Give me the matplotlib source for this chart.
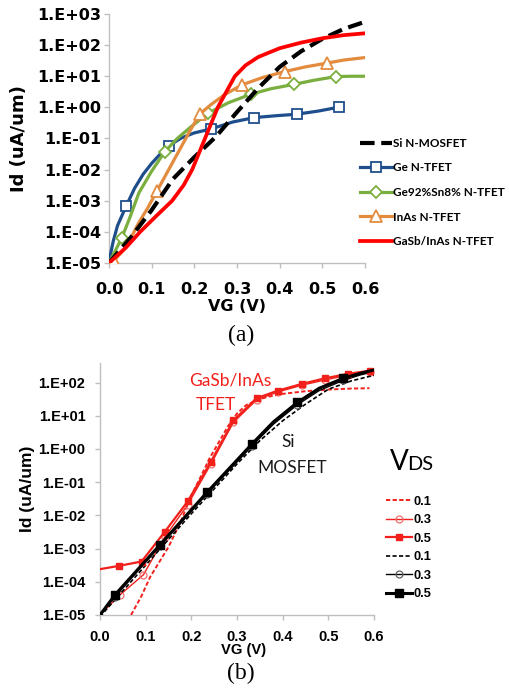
import numpy as np
import matplotlib.pyplot as plt
from matplotlib.ticker import FixedLocator, FuncFormatter, NullLocator

# ── (a) Id-VG at VDS = 0.5 V, log10(Id) in uA/um ─────────────────────────────
si_vg = [0.0, 0.05, 0.10, 0.15, 0.20, 0.25, 0.30, 0.35, 0.40, 0.45, 0.50, 0.55, 0.60]
si_log = [-5.0, -4.2, -3.3, -2.3, -1.6, -0.95, -0.15, 0.62, 1.3, 1.8, 2.2, 2.52, 2.75]

ge_vg = [0.0, 0.01, 0.02, 0.04, 0.06, 0.08, 0.10, 0.12, 0.14, 0.17, 0.20, 0.24,
         0.29, 0.34, 0.39, 0.44, 0.49, 0.54]
ge_log = [-4.95, -4.3, -3.8, -3.18, -2.6, -2.15, -1.8, -1.5, -1.235, -0.98, -0.82,
          -0.69, -0.47, -0.33, -0.27, -0.22, -0.12, 0.01]
ge_marks = [0.04, 0.14, 0.24, 0.34, 0.44, 0.54]

gesn_vg = [0.0, 0.03, 0.05, 0.07, 0.10, 0.131, 0.16, 0.19, 0.232, 0.28, 0.332,
           0.38, 0.434, 0.48, 0.532, 0.57, 0.60]
gesn_log = [-5.0, -4.2, -3.5, -2.75, -2.05, -1.42, -1.0, -0.65, -0.19, 0.15, 0.42,
            0.6, 0.74, 0.87, 0.99, 1.0, 1.0]
gesn_marks = [0.03, 0.131, 0.232, 0.332, 0.434, 0.532]

inas_vg = [0.0, 0.012, 0.04, 0.07, 0.09, 0.112, 0.14, 0.17, 0.19, 0.213, 0.24,
           0.27, 0.311, 0.36, 0.412, 0.46, 0.51, 0.55, 0.60]
inas_log = [-5.0, -4.92, -4.5, -3.7, -3.25, -2.70, -2.0, -1.25, -0.75, -0.21, 0.1,
            0.4, 0.72, 0.96, 1.15, 1.3, 1.42, 1.52, 1.6]
inas_marks = [0.012, 0.112, 0.213, 0.311, 0.412, 0.51]

gasb_vg = [0.0, 0.04, 0.073, 0.11, 0.148, 0.175, 0.195, 0.21, 0.225, 0.24, 0.255,
           0.275, 0.295, 0.32, 0.35, 0.40, 0.45, 0.50, 0.55, 0.60]
gasb_log = [-5.0, -4.5, -4.0, -3.5, -3.0, -2.5, -2.0, -1.5, -1.0, -0.5, 0.0,
            0.5, 1.0, 1.35, 1.62, 1.9, 2.08, 2.22, 2.32, 2.38]

# ── (b) GaSb/InAs TFET vs Si MOSFET at VDS = 0.1 / 0.3 / 0.5 V ───────────────
tfet05_vg = [0.0, 0.042, 0.091, 0.142, 0.192, 0.243, 0.292, 0.343, 0.39, 0.442,
             0.493, 0.542, 0.591]
tfet05_log = [-3.62, -3.52, -3.39, -2.49, -1.58, -0.38, 0.86, 1.53, 1.76, 1.96,
              2.13, 2.26, 2.36]

tfet03_vg = [0.0, 0.044, 0.095, 0.142, 0.192, 0.243, 0.292, 0.343, 0.39, 0.442,
             0.493, 0.542, 0.591]
tfet03_log = [-5.0, -4.39, -3.79, -2.65, -1.68, -0.45, 0.80, 1.48, 1.72, 1.92,
              2.08, 2.22, 2.33]

tfet01_vg = [0.068, 0.09, 0.11, 0.13, 0.15, 0.175, 0.20, 0.22, 0.24, 0.26, 0.28,
             0.30, 0.32, 0.345, 0.37, 0.40, 0.45, 0.50, 0.55, 0.59]
tfet01_log = [-5.0, -4.45, -3.85, -3.4, -2.95, -2.24, -1.4, -0.85, -0.28, 0.2, 0.68,
              1.07, 1.32, 1.48, 1.58, 1.66, 1.74, 1.79, 1.82, 1.83]

mos05_vg = [0.0, 0.033, 0.131, 0.234, 0.332, 0.38, 0.432, 0.48, 0.533, 0.57, 0.60]
mos05_log = [-5.0, -4.39, -2.89, -1.31, 0.14, 0.82, 1.4, 1.83, 2.13, 2.28, 2.38]
mos03_log = [-5.0, -4.45, -2.93, -1.36, 0.08, 0.75, 1.33, 1.76, 2.07, 2.23, 2.33]
mos_marks = [0.033, 0.131, 0.234, 0.332, 0.432, 0.533]

mos01_vg = [0.0, 0.10, 0.20, 0.30, 0.35, 0.40, 0.45, 0.50, 0.55, 0.60]
mos01_log = [-5.05, -3.5, -1.95, -0.45, 0.25, 0.85, 1.35, 1.8, 2.05, 2.22]

vds_labels = ["0.1", "0.3", "0.5", "0.1", "0.3", "0.5"]

# ── styling ──────────────────────────────────────────────────────────────────
plt.rcParams["font.weight"] = "bold"
plt.rcParams["axes.labelweight"] = "bold"

AXIS_GREY = "#bfbfbf"
C_GE = "#1f4e8c"
C_GESN = "#7aae3e"
C_INAS = "#e38b3f"
C_RED = "#ff0000"
C_RED_B = "#f2201a"
B_FONT = "Liberation Sans"


def idx(vg, at):
    return [vg.index(v) for v in at]


def exp_label(v, _pos):
    e = int(round(np.log10(v)))
    return f"1.E{e:+03d}"


def style_axes(ax, ylo, yhi, decades, family, size, xpad, ypad):
    ax.set_yscale("log")
    ax.set_xlim(0, 0.6)
    ax.set_ylim(ylo, yhi)
    ax.yaxis.set_major_locator(FixedLocator([10.0 ** d for d in decades]))
    ax.yaxis.set_minor_locator(NullLocator())
    ax.yaxis.set_major_formatter(FuncFormatter(exp_label))
    ax.set_xticks(np.arange(0, 0.61, 0.1))
    ax.xaxis.set_major_formatter(FuncFormatter(lambda v, p: f"{v:.1f}"))
    for s in ("top", "right"):
        ax.spines[s].set_visible(False)
    for s in ("left", "bottom"):
        ax.spines[s].set_color(AXIS_GREY)
        ax.spines[s].set_linewidth(1.0)
    ax.tick_params(axis="both", which="major", direction="out", length=3.5,
                   width=1.0, color=AXIS_GREY, labelsize=size,
                   labelfontfamily=family)
    ax.tick_params(axis="x", pad=xpad)
    ax.tick_params(axis="y", pad=ypad)


fig = plt.figure(figsize=(5.09, 6.93), dpi=100, facecolor="white")

# ── panel (a) ────────────────────────────────────────────────────────────────
ax_a = fig.add_axes([0.2141, 0.6205, 0.5030, 0.3593])
style_axes(ax_a, 1e-5, 1e3, range(-5, 4), "DejaVu Sans", 11.5, 10, 2)

l_ge, = ax_a.plot(ge_vg, 10.0 ** np.array(ge_log), color=C_GE, lw=2.3,
                  marker="s", ms=7, mfc="white", mec=C_GE, mew=1.3,
                  markevery=idx(ge_vg, ge_marks), zorder=3, label="Ge N-TFET")
l_gesn, = ax_a.plot(gesn_vg, 10.0 ** np.array(gesn_log), color=C_GESN, lw=2.3,
                    marker="D", ms=6, mfc="white", mec=C_GESN, mew=1.3,
                    markevery=idx(gesn_vg, gesn_marks), zorder=3,
                    label="Ge92%Sn8% N-TFET")
l_inas, = ax_a.plot(inas_vg, 10.0 ** np.array(inas_log), color=C_INAS, lw=2.3,
                    marker="^", ms=8, mfc="white", mec=C_INAS, mew=1.3,
                    markevery=idx(inas_vg, inas_marks), zorder=3,
                    label="InAs N-TFET")
l_si, = ax_a.plot(si_vg, 10.0 ** np.array(si_log), color="black", lw=3.0,
                  dashes=(3.5, 1.6), zorder=4, label="Si N-MOSFET")
l_gasb, = ax_a.plot(gasb_vg, 10.0 ** np.array(gasb_log), color=C_RED, lw=2.7,
                    zorder=5, label="GaSb/InAs N-TFET")

ax_a.set_ylabel("Id (uA/um)", fontsize=13, family="DejaVu Sans")
ax_a.yaxis.set_label_coords((28 - 109) / 256, 0.5)
fig.text(237 / 509, 1 - 306.7 / 693, "VG (V)", ha="center", va="center",
         fontsize=11.5, family="DejaVu Sans")

handles_a = [l_si, l_ge, l_gesn, l_inas, l_gasb]
fig.legend(handles_a, [h.get_label() for h in handles_a],
           loc="center left", bbox_to_anchor=(360 / 509, 1 - 192.5 / 693),
           frameon=False, borderpad=0, borderaxespad=0,
           handlelength=2.7, handletextpad=0.1, labelspacing=1.15,
           prop={"family": "Lato", "weight": "bold", "size": 8.5})

fig.text(241 / 509, 1 - 335 / 693, "(a)", ha="center", va="center",
         fontsize=17, family="Liberation Serif", fontweight="normal")

# ── panel (b) ────────────────────────────────────────────────────────────────
ax_b = fig.add_axes([0.1965, 0.1126, 0.5383, 0.3636])
style_axes(ax_b, 1e-5, 10 ** 2.59, range(-5, 3), B_FONT, 10.5, 7, 7)

l_t01, = ax_b.plot(tfet01_vg, 10.0 ** np.array(tfet01_log), color=C_RED_B,
                   lw=1.4, dashes=(2.2, 1.2), zorder=3)
l_t03, = ax_b.plot(tfet03_vg, 10.0 ** np.array(tfet03_log), color=C_RED_B,
                   lw=1.0, marker="o", ms=5, mfc="none", mec="#f07070", mew=0.9,
                   markevery=list(range(1, len(tfet03_vg))), zorder=3)
l_t05, = ax_b.plot(tfet05_vg, 10.0 ** np.array(tfet05_log), color=C_RED_B,
                   lw=1.6, marker="s", ms=5, mfc=C_RED_B, mec=C_RED_B,
                   markevery=list(range(1, len(tfet05_vg))), zorder=4)
l_m01, = ax_b.plot(mos01_vg, 10.0 ** np.array(mos01_log), color="black",
                   lw=1.2, dashes=(2.5, 1.4), zorder=3)
l_m03, = ax_b.plot(mos05_vg, 10.0 ** np.array(mos03_log), color="black",
                   lw=1.0, marker="o", ms=5, mfc="none", mec="#606060", mew=0.9,
                   markevery=idx(mos05_vg, mos_marks), zorder=3)
l_m05, = ax_b.plot(mos05_vg, 10.0 ** np.array(mos05_log), color="black",
                   lw=2.2, marker="s", ms=5.5, mfc="black", mec="black",
                   markevery=idx(mos05_vg, mos_marks), zorder=4)

ax_b.set_ylabel("Id (uA/um)", fontsize=12.5, family=B_FONT)
ax_b.yaxis.set_label_coords((35 - 100) / 274, 0.5)
fig.text(244 / 509, 1 - 650 / 693, "VG (V)", ha="center", va="center",
         fontsize=10.6, family=B_FONT)

note = dict(ha="center", va="center", fontsize=12.5, family="Lato",
            fontweight="normal")
fig.text(230 / 509, 1 - 380 / 693, "GaSb/InAs", color=C_RED_B, **note)
fig.text(216 / 509, 1 - 405 / 693, "TFET", color=C_RED_B, **note)
fig.text(288 / 509, 1 - 442 / 693, "Si", color="#1a1a1a", **note)
fig.text(291.7 / 509, 1 - 468.3 / 693, "MOSFET", color="#1a1a1a", **note)

# V_DS heading above the legend
fig.text(390 / 509, 1 - 470 / 693, "V", ha="left", va="baseline",
         fontsize=20, family="Lato", fontweight="normal")
fig.text(407 / 509, 1 - 470 / 693, "DS", ha="left", va="baseline",
         fontsize=14.4, family="Lato", fontweight="normal")

fig.legend([l_t01, l_t03, l_t05, l_m01, l_m03, l_m05], vds_labels,
           loc="center left", bbox_to_anchor=(386 / 509, 1 - 548 / 693),
           frameon=False, borderpad=0, borderaxespad=0,
           handlelength=2.0, handletextpad=0.1, labelspacing=0.5,
           prop={"family": B_FONT, "weight": "bold", "size": 9.3})

fig.text(241 / 509, 1 - 673 / 693, "(b)", ha="center", va="center",
         fontsize=17, family="Liberation Serif", fontweight="normal")

fig.savefig("out.png", dpi=100, facecolor="white")
